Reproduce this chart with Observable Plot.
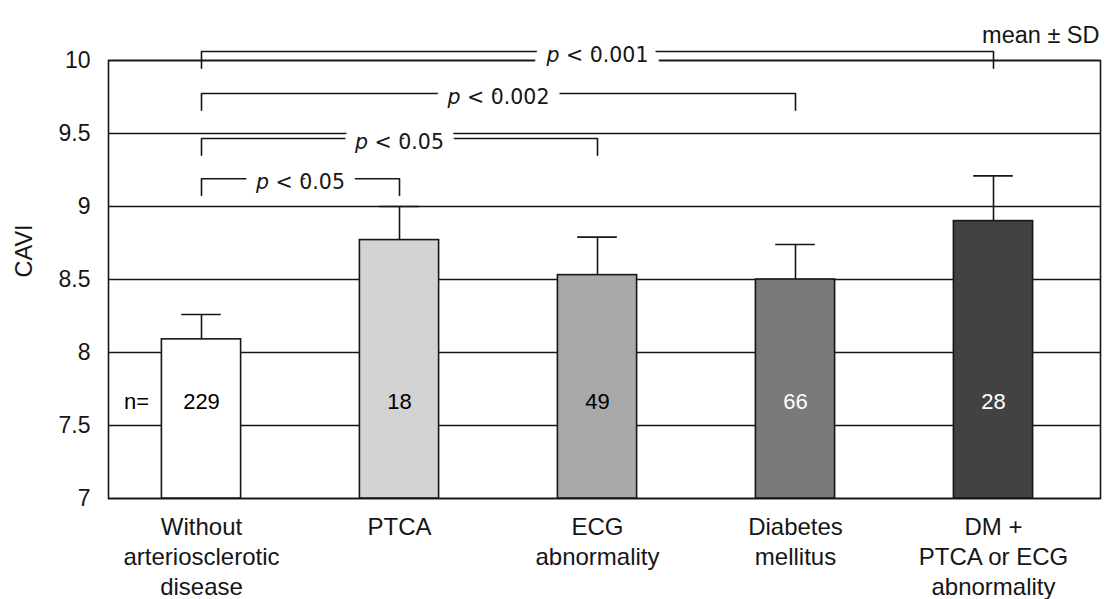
<!DOCTYPE html>
<html><head><meta charset="utf-8">
<script src="https://cdn.jsdelivr.net/npm/d3@7"></script>
<script src="https://cdn.jsdelivr.net/npm/@observablehq/plot@0.6"></script>
<style>body{margin:0;background:#fff}</style>
</head><body><div id="chart"></div>
<script>
// ---- data ----
const categories = ["Without\narteriosclerotic\ndisease", "PTCA", "ECG\nabnormality", "Diabetes\nmellitus", "DM +\nPTCA or ECG\nabnormality"];
const means = [8.09, 8.77, 8.53, 8.50, 8.90];
const sds = [0.17, 0.23, 0.26, 0.24, 0.31];
const nCounts = [229, 18, 49, 66, 28];
const yTicks = [7, 7.5, 8, 8.5, 9, 9.5, 10];
const compFrom = [0, 0, 0, 0];
const compTo = [1, 2, 3, 4];
const compLabels = ["p < 0.05", "p < 0.05", "p < 0.002", "p < 0.001"];
const compLevels = [9.19, 9.466, 9.774, 10.062];
const nLabelY = 7.66;

// ---- derived tables ----
const data = categories.map((c, i) => ({i, c, mean: means[i], sd: sds[i], n: nCounts[i]}));
const comps = compLabels.map((t, k) => ({k, from: compFrom[k], to: compTo[k], label: t, level: compLevels[k]}));
const tickDepth = 0.115;
const bracketPts = comps.flatMap(d => [
  {k: d.k, x: d.from, y: d.level - tickDepth},
  {k: d.k, x: d.from, y: d.level},
  {k: d.k, x: d.to, y: d.level},
  {k: d.k, x: d.to, y: d.level - tickDepth}
]);
const halfBar = 0.2, halfCap = 0.1;
const ink = "#161616";
const font = "'Liberation Sans', Arial, Helvetica, sans-serif";
const pFont = "'DejaVu Sans', sans-serif";
const pText = {x: d => (d.from + d.to) / 2, y: "level", text: "label", dy: 4, fontFamily: pFont, fontSize: 20.5};

const chart = Plot.plot({
  width: 1109,
  height: 599,
  marginLeft: 108,
  marginRight: 9,
  marginTop: 60,
  marginBottom: 101,
  style: {fontFamily: font, fontSize: "23px", color: ink, background: "#fff"},
  x: {domain: [-0.4697, 4.5404]},
  y: {domain: [7, 10]},
  color: {type: "ordinal", domain: d3.range(5), range: ["#ffffff", "#d3d3d3", "#a9a9a9", "#7a7a7a", "#424242"]},
  marks: [
    Plot.ruleY(yTicks, {stroke: ink, strokeWidth: 1.6}),
    Plot.frame({stroke: ink, strokeWidth: 1.6}),
    Plot.ruleX(data, {x: "i", y1: "mean", y2: d => d.mean + d.sd, stroke: ink, strokeWidth: 1.6}),
    Plot.rectY(data, {x1: d => d.i - halfBar, x2: d => d.i + halfBar, y1: 7, y2: "mean", fill: "i", stroke: ink, strokeWidth: 1.6}),
    Plot.ruleY(data, {y: d => d.mean + d.sd, x1: d => d.i - halfCap, x2: d => d.i + halfCap, stroke: ink, strokeWidth: 1.6}),
    Plot.line(bracketPts, {x: "x", y: "y", z: "k", stroke: ink, strokeWidth: 1.6, curve: "linear"}),
    // white knock-out behind the p-value labels
    Plot.text(comps, {...pText, fill: "white", stroke: "white", strokeWidth: 24, strokeLinejoin: "round"}),
    Plot.text(comps, {...pText, fill: ink}),
    Plot.text(data, {x: "i", y: () => nLabelY, text: d => String(d.n), fontSize: 22,
      fill: d => d.i >= 3 ? "white" : "black"}),
    Plot.text(["n="], {x: () => 0, y: () => nLabelY, dx: -65, fontSize: 22, fill: "black"}),
    Plot.text(["mean ± SD"], {frameAnchor: "top-right", dy: -34.4, dx: -1, textAnchor: "end", fontSize: 23.5, fill: ink}),
    Plot.text(["CAVI"], {frameAnchor: "left", rotate: -90, dx: -84.5, dy: -2, fontSize: 23.5, fill: ink}),
    Plot.axisY(yTicks, {tickSize: 0, tickPadding: 18, fontSize: 23, label: null, tickFormat: d => String(d)}),
    Plot.axisX(d3.range(5), {tickSize: 0, tickPadding: 15, fontSize: 24, lineHeight: 1.25,
      tickFormat: i => categories[i], label: null})
  ]
});
document.getElementById("chart").append(chart);

// italicise the "p" of each p-value label (text stays real text)
chart.querySelectorAll("text").forEach(t => {
  const s = t.textContent;
  if (/^p </.test(s) && t.children.length === 0) {
    t.textContent = "";
    const ts = document.createElementNS("http://www.w3.org/2000/svg", "tspan");
    ts.setAttribute("font-style", "italic");
    ts.textContent = "p";
    t.append(ts, document.createTextNode(s.slice(1)));
  }
});
</script>
</body></html>
